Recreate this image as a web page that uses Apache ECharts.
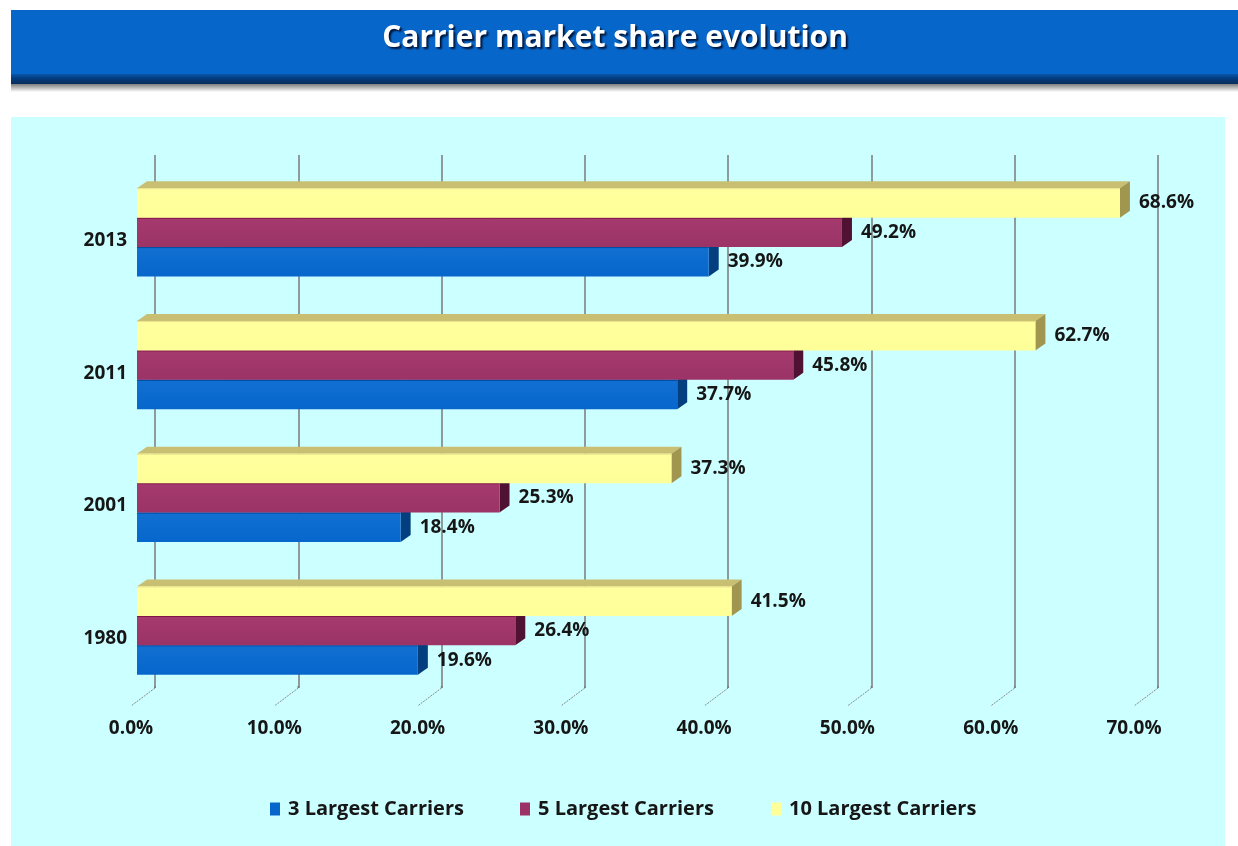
<!DOCTYPE html>
<html>
<head>
<meta charset="utf-8">
<title>Carrier market share evolution</title>
<script src="https://cdn.jsdelivr.net/npm/echarts@6/dist/echarts.min.js"></script>
<style>
  html, body { margin: 0; padding: 0; background: #ffffff; }
  #chart { width: 1238px; height: 846px; }
</style>
</head>
<body>
<div id="chart"></div>
<script>
// ---- data ----
const years = ['1980', '2001', '2011', '2013'];
const seriesNames = ['3 Largest Carriers', '5 Largest Carriers', '10 Largest Carriers'];
const largest3 = [19.6, 18.4, 37.7, 39.9];
const largest5 = [26.4, 25.3, 45.8, 49.2];
const largest10 = [41.5, 37.3, 62.7, 68.6];
const xTicks = [0, 10, 20, 30, 40, 50, 60, 70];

// ---- styling ----
const FONT = '"Open Sans", "Noto Sans", sans-serif';
const TEXT = '#161616';
const GRID_LINE = '#7a7a7a';
// front / side / top face colours for each box series
const faces = [
  { front: '#0766cc', frontTop: '#1270d2', side: '#033f7e', top: '#3b86d6', edge: '#004a9e' },
  { front: '#9c3366', frontTop: '#a43a6e', side: '#4f1232', top: '#b9557f', edge: '#7d0f3f' },
  { front: '#ffff99', frontTop: '#ffff9e', side: '#a09650', top: '#c8bf72', edge: '#e9e08a' }
];
const DEPTH_X = 10, DEPTH_Y = -7;     // bar depth offset
const BACK_DX = 18, BACK_DY = -9;     // back wall offset from the front plane
const BAR_FRAC = 0.222;               // bar thickness as a share of the category band

const chart = echarts.init(document.getElementById('chart'), null, { renderer: 'canvas' });

function boxRenderer(slot) {
  return function (params, api) {
    const v = api.value(0);
    const c = api.value(1);
    const start = api.coord([0, c]);
    const end = api.coord([v, c]);
    const band = api.size([0, 1])[1];
    const t = band * BAR_FRAC;
    const yc = start[1] + (1 - slot) * t;
    const y0 = yc - t / 2, y1 = yc + t / 2;
    const x0 = start[0], x1 = end[0];
    const f = faces[slot];
    return {
      type: 'group',
      children: [
        {
          type: 'polygon',
          shape: { points: [[x0, y0], [x0 + DEPTH_X, y0 + DEPTH_Y], [x1 + DEPTH_X, y0 + DEPTH_Y], [x1, y0]] },
          style: { fill: f.top }
        },
        {
          type: 'polygon',
          shape: { points: [[x1, y0], [x1 + DEPTH_X, y0 + DEPTH_Y], [x1 + DEPTH_X, y1 + DEPTH_Y], [x1, y1]] },
          style: { fill: f.side }
        },
        {
          type: 'rect',
          shape: { x: x0, y: y0, width: x1 - x0, height: y1 - y0 },
          style: {
            fill: new echarts.graphic.LinearGradient(0, 0, 0, 1, [
              { offset: 0, color: f.frontTop },
              { offset: 1, color: f.front }
            ])
          }
        },
        {
          type: 'line',
          shape: { x1: x0, y1: y0 + 0.5, x2: x1, y2: y0 + 0.5 },
          style: { stroke: f.edge, lineWidth: 1 }
        },
        {
          type: 'text',
          x: x1 + 19,
          y: yc,
          style: {
            text: v.toFixed(1) + '%',
            font: 'bold 19px ' + FONT,
            fill: TEXT,
            align: 'left',
            verticalAlign: 'middle'
          }
        }
      ]
    };
  };
}

function floorTick(params, api) {
  const p = api.coord([api.value(0), 0]);
  const cs = params.coordSys;
  const xb = p[0] + BACK_DX;
  const yb = cs.y + cs.height + BACK_DY;
  return {
    type: 'group',
    children: [
      { type: 'line', shape: { x1: xb, y1: yb - 2, x2: xb, y2: yb }, style: { stroke: GRID_LINE, lineWidth: 1.5 } },
      { type: 'line', shape: { x1: xb, y1: yb, x2: xb - 24, y2: yb + 18 },
        style: { stroke: '#8a8a8a', lineWidth: 1, lineDash: [2, 1] } }
    ]
  };
}

const seriesData = [largest3, largest5, largest10];

const boxSeries = seriesData.map((arr, slot) => ({
  name: seriesNames[slot],
  type: 'custom',
  xAxisIndex: 0,
  yAxisIndex: 0,
  renderItem: boxRenderer(slot),
  encode: { x: 0, y: 1 },
  itemStyle: { color: faces[slot].front },
  data: arr.map((v, i) => [v, i]),
  z: 3
}));

const legendLeft = [270, 520, 771];

const option = {
  backgroundColor: '#ffffff',
  animation: false,
  graphic: {
    elements: [
      { type: 'rect', z: -20, shape: { x: 11, y: 10, width: 1227, height: 66 }, style: { fill: '#0766c9' } },
      { type: 'rect', z: -20, shape: { x: 11, y: 74, width: 1227, height: 10 },
        style: { fill: new echarts.graphic.LinearGradient(0, 0, 0, 1, [
          { offset: 0, color: '#0a55aa' }, { offset: 0.5, color: '#023a7a' }, { offset: 1, color: '#0b2d5a' }]) } },
      { type: 'rect', z: -20, shape: { x: 11, y: 84, width: 1227, height: 8 },
        style: { fill: new echarts.graphic.LinearGradient(0, 0, 0, 1, [
          { offset: 0, color: '#7d7d7d' }, { offset: 1, color: '#ffffff' }]) } },
      { type: 'rect', z: -20, shape: { x: 11, y: 117, width: 1214, height: 729 }, style: { fill: '#ccffff' } },
      {
        type: 'text', z: -10, x: 615, y: 38,
        style: {
          text: 'Carrier market share evolution',
          font: 'bold 30px ' + FONT,
          fill: '#ffffff',
          align: 'center',
          verticalAlign: 'middle',
          textShadowColor: 'rgba(0,10,40,0.9)',
          textShadowOffsetX: 2,
          textShadowOffsetY: 2,
          textShadowBlur: 2
        }
      }
    ]
  },
  legend: seriesNames.map((name, i) => ({
    data: [name],
    left: legendLeft[i],
    top: 799,
    padding: 0,
    icon: 'rect',
    itemWidth: 10,
    itemHeight: 13,
    selectedMode: false,
    textStyle: { fontFamily: FONT, fontWeight: 'bold', fontSize: 20, color: TEXT, padding: [0, 0, 0, 3] }
  })),
  grid: [
    // front plane: bars and axis labels
    { left: 137, right: 98, top: 166, bottom: 149, containLabel: false },
    // back wall: gridlines
    { left: 137 + BACK_DX, right: 98 - BACK_DX, top: 166 + BACK_DY - 2, bottom: 149 - BACK_DY, containLabel: false }
  ],
  xAxis: [
    {
      gridIndex: 0, type: 'value', min: 0, max: 70, interval: 10,
      axisLine: { show: false }, axisTick: { show: false }, splitLine: { show: false },
      axisLabel: {
        margin: 22,
        padding: [0, 12, 0, 0],
        formatter: v => xTicks.includes(v) ? v.toFixed(1) + '%' : '',
        fontFamily: FONT, fontWeight: 'bold', fontSize: 19, color: TEXT
      }
    },
    {
      gridIndex: 1, type: 'value', min: 0, max: 70, interval: 10,
      axisLine: { show: false }, axisTick: { show: false }, axisLabel: { show: false },
      splitLine: { show: true, lineStyle: { color: GRID_LINE, width: 1.5 } }
    }
  ],
  yAxis: [
    {
      gridIndex: 0, type: 'category', data: years,
      axisLine: { show: false }, axisTick: { show: false }, splitLine: { show: false },
      axisLabel: {
        margin: 10,
        formatter: v => '{yr|' + v + '}',
        rich: {
          yr: { padding: [16, 0, 0, 0], fontFamily: FONT, fontWeight: 'bold', fontSize: 19, color: TEXT }
        }
      }
    },
    {
      gridIndex: 1, type: 'category', data: years, show: false
    }
  ],
  series: [
    {
      type: 'custom',
      name: 'floor',
      xAxisIndex: 0,
      yAxisIndex: 0,
      silent: true,
      renderItem: floorTick,
      encode: { x: 0, y: 1 },
      data: xTicks.map(v => [v, 0]),
      z: 1
    },
    ...boxSeries
  ]
};

chart.setOption(option);
</script>
</body>
</html>
